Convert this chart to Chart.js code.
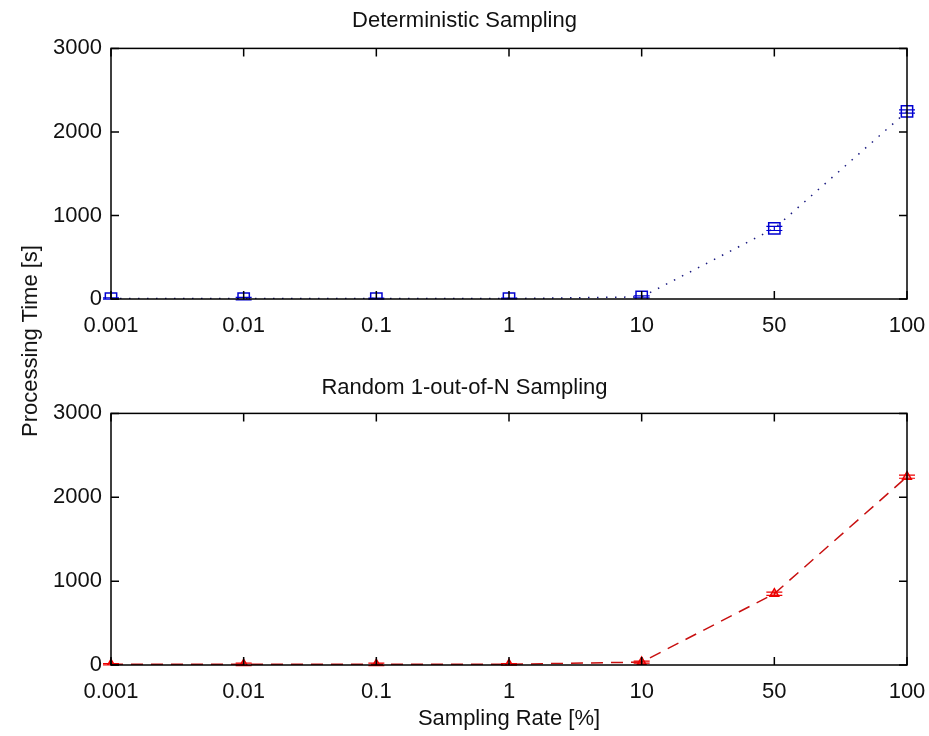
<!DOCTYPE html>
<html>
<head>
<meta charset="utf-8">
<script src="https://cdn.jsdelivr.net/npm/chart.js@4.4.1/dist/chart.umd.min.js"></script>
<style>
  body { margin: 0; background: #fff; }
  #wrap { position: relative; width: 929px; height: 736px; }
  #top { position: absolute; left: 0; top: 0; }
  #bottom { position: absolute; left: 0; top: 345px; }
  #ylab {
    position: absolute; left: 30px; top: 341px;
    transform: translate(-50%, -50%) rotate(-90deg);
    font: 22px "Liberation Sans", Arial, sans-serif; color: #111; white-space: nowrap;
  }
</style>
</head>
<body>
<div id="wrap">
  <canvas id="top" width="929" height="345"></canvas>
  <canvas id="bottom" width="929" height="391"></canvas>
  <div id="ylab">Processing Time [s]</div>
</div>
<script>
// sampling rates in percent (x categories)
const rates = ['0.001', '0.01', '0.1', '1', '10', '50', '100'];
const yTicks = [0, 1000, 2000, 3000];

// processing time [s]
const detTime = [5, 5, 5, 5, 25, 845, 2245];
const detErr  = [8, 15, 6, 5, 12, 25, 20];
const rndTime = [8, 8, 8, 8, 35, 850, 2245];
const rndErr  = [8, 15, 15, 10, 12, 20, 18];

const FONT = '"Liberation Sans", Arial, sans-serif';
const TXT = '#111';

// box around plot + inward ticks like matlab
const boxTicks = {
    id: 'boxTicks',
    afterDraw(chart) {
        const { ctx, chartArea: a, scales } = chart;
        ctx.save();
        ctx.strokeStyle = '#000';
        ctx.lineWidth = 1.5;
        ctx.strokeRect(a.left, a.top, a.right - a.left, a.bottom - a.top);
        const len = 8;
        ctx.beginPath();
        scales.x.ticks.forEach((t, i) => {
            const px = scales.x.getPixelForTick(i);
            ctx.moveTo(px, a.bottom); ctx.lineTo(px, a.bottom - len);
            ctx.moveTo(px, a.top); ctx.lineTo(px, a.top + len);
        });
        scales.y.ticks.forEach(t => {
            const py = scales.y.getPixelForValue(t.value);
            ctx.moveTo(a.left, py); ctx.lineTo(a.left + len, py);
            ctx.moveTo(a.right, py); ctx.lineTo(a.right - len, py);
        });
        ctx.stroke();
        ctx.restore();
    }
};

// simple error bars
const errorBars = {
    id: 'errorBars',
    afterDatasetsDraw(chart) {
        const { ctx } = chart;
        const y = chart.scales.y;
        chart.data.datasets.forEach((ds, di) => {
            if (!ds.errors) return;
            const meta = chart.getDatasetMeta(di);
            ctx.save();
            ctx.strokeStyle = ds.pointBorderColor;
            ctx.lineWidth = 1.2;
            meta.data.forEach((pt, i) => {
                const v = ds.data[i], e = ds.errors[i];
                const y1 = y.getPixelForValue(v - e), y2 = y.getPixelForValue(v + e);
                ctx.beginPath();
                ctx.moveTo(pt.x, y1); ctx.lineTo(pt.x, y2);
                ctx.moveTo(pt.x - 8, y1); ctx.lineTo(pt.x + 8, y1);
                ctx.moveTo(pt.x - 8, y2); ctx.lineTo(pt.x + 8, y2);
                ctx.stroke();
            });
            ctx.restore();
        });
    }
};

function makeChart(id, title, titlePad, dataset, xTitle, xHeight) {
    return new Chart(document.getElementById(id), {
        type: 'line',
        data: { labels: rates, datasets: [dataset] },
        options: {
            responsive: false,
            animation: false,
            layout: { padding: 0 },
            plugins: {
                legend: { display: false },
                tooltip: { enabled: false },
                title: {
                    display: true, text: title, color: TXT,
                    font: { family: FONT, size: 22, weight: 'normal' },
                    padding: titlePad
                }
            },
            scales: {
                x: {
                    type: 'category', offset: false,
                    grid: { display: false, drawTicks: false },
                    border: { display: false },
                    ticks: { color: TXT, padding: 14, font: { family: FONT, size: 22 }, maxRotation: 0, autoSkip: false },
                    title: xTitle ? { display: true, text: xTitle, color: TXT, font: { family: FONT, size: 22 }, padding: { top: 5 } } : { display: false },
                    afterFit(s) { s.height = xHeight; s.paddingLeft = 0; s.paddingRight = 22; }
                },
                y: {
                    min: 0, max: 3000,
                    afterBuildTicks(s) { s.ticks = yTicks.map(v => ({ value: v })); },
                    grid: { display: false, drawTicks: false },
                    border: { display: false },
                    ticks: { color: TXT, padding: 9, font: { family: FONT, size: 22 }, callback: v => String(v) },
                    afterFit(s) { s.width = 111; s.paddingTop = 0; s.paddingBottom = 0; }
                }
            }
        },
        plugins: [errorBars, boxTicks]
    });
}

makeChart('top', 'Deterministic Sampling', { top: 8, bottom: 14 }, {
    data: detTime,
    errors: detErr,
    borderColor: '#1a1a80',
    borderWidth: 1.5,
    borderDash: [1.5, 7.5],
    pointStyle: 'rect',
    pointRadius: 8,
    pointBorderColor: '#0000d0',
    pointBackgroundColor: 'rgba(0,0,0,0)',
    pointBorderWidth: 1.5,
    tension: 0
}, null, 46);

makeChart('bottom', 'Random 1-out-of-N Sampling', { top: 30, bottom: 12 }, {
    data: rndTime,
    errors: rndErr,
    borderColor: '#c81010',
    borderWidth: 1.5,
    borderDash: [12, 8],
    pointStyle: 'triangle',
    pointRadius: 5,
    pointBorderColor: '#ee0000',
    pointBackgroundColor: 'rgba(200,0,0,0.35)',
    pointBorderWidth: 1.5,
    tension: 0
}, 'Sampling Rate [%]', 71);
</script>
</body>
</html>
